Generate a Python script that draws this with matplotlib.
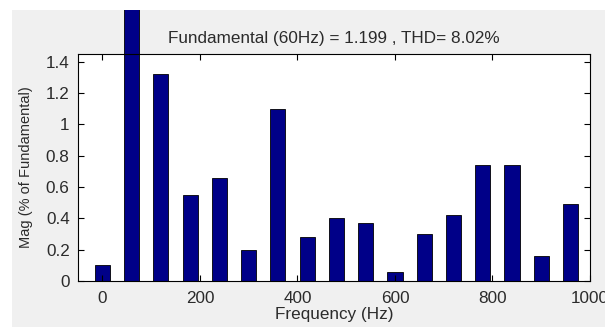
import matplotlib
matplotlib.use("Agg")
import matplotlib.pyplot as plt
from matplotlib.patches import Rectangle

# harmonic spectrum, magnitude in % of fundamental
freqs = [0, 60, 120, 180, 240, 300, 360, 420, 480, 540, 600, 660, 720, 780, 840, 900, 960]
mags = [0.10, 100.0, 1.32, 0.55, 0.66, 0.20, 1.10, 0.28, 0.40, 0.37, 0.06, 0.30, 0.42, 0.74, 0.74, 0.16, 0.49]
yticks = [0, 0.2, 0.4, 0.6, 0.8, 1, 1.2, 1.4]
ytick_labels = ["0", "0.2", "0.4", "0.6", "0.8", "1", "1.2", "1.4"]
xticks = [0, 200, 400, 600, 800, 1000]

plt.rcParams['font.family'] = ['Liberation Sans', 'DejaVu Sans']
txt = '#2b2b2b'
fs = 12.3

fig = plt.figure(figsize=(6.05, 3.27), dpi=100)
fig.patch.set_facecolor('white')
# grey window background
fig.add_artist(Rectangle((12/605, 0), 1 - 12/605, 1 - 10/327, transform=fig.transFigure,
                         facecolor='#f0f0f0', edgecolor='none', zorder=-1))

ax = fig.add_axes([78/605, 46/327, 512/605, 227/327])
bars = ax.bar(freqs, mags, width=31, color='#000088', edgecolor='black', linewidth=0.6)
for b in bars:
  b.set_clip_on(False)

ax.set_xlim(-50, 1000)
ax.set_ylim(0, 1.45)
ax.set_xticks(xticks)
ax.set_xticklabels([str(x) for x in xticks])
ax.set_yticks(yticks)
ax.set_yticklabels(ytick_labels)
ax.tick_params(direction='in', length=4, top=True, right=True, labelsize=fs, colors='black',
               labelcolor=txt, width=0.8)
ax.tick_params(axis='x', pad=7)
ax.tick_params(axis='y', pad=6)
for s in ax.spines.values():
  s.set_linewidth(0.8)

ax.set_title("Fundamental (60Hz) = 1.199 , THD= 8.02%", fontsize=fs, color=txt, pad=8)
ax.set_xlabel("Frequency (Hz)", fontsize=fs, color=txt, labelpad=1)
ax.set_ylabel("Mag (% of Fundamental)", fontsize=10.5, color=txt, labelpad=9)

# cut the fundamental bar off at the top of the window
fig.add_artist(Rectangle((0, 1 - 10/327), 1, 10/327, transform=fig.transFigure,
                         facecolor='white', edgecolor='none', zorder=10))

fig.savefig("out.png", dpi=100)
